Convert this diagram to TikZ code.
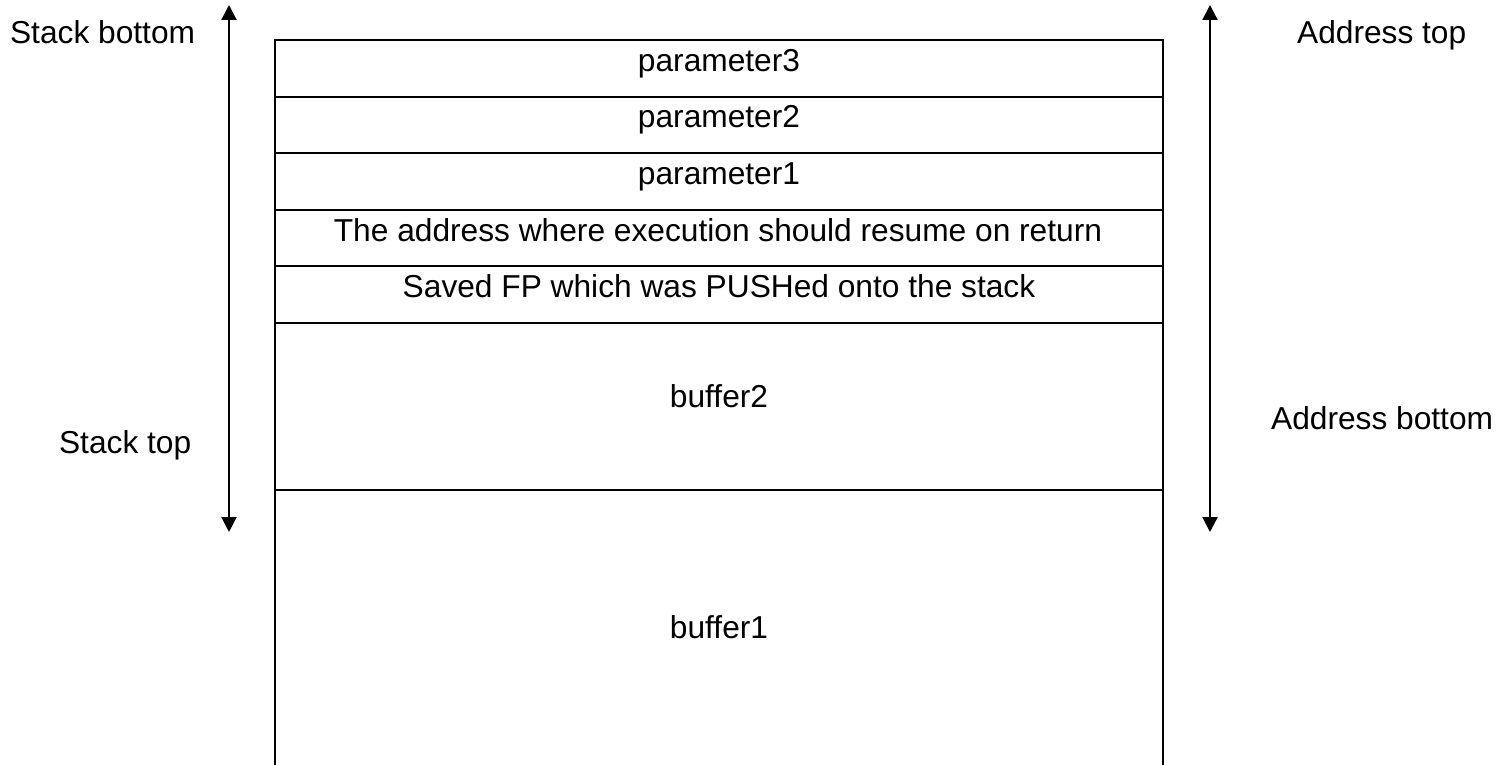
\documentclass[tikz,border=0pt]{standalone}
\usepackage{fontspec}
\setmainfont{Liberation Sans}
\usetikzlibrary{arrows.meta}
\begin{document}
\begin{tikzpicture}[x=1pt,y=-1pt,line width=2.2pt,
  lbl/.style={inner sep=0pt,font=\fontsize{31.7}{38}\selectfont,anchor=base},
  lblw/.style={lbl,anchor=base west},
  dblarrow/.style={{Triangle[width=15pt,length=15pt]}-{Triangle[width=15pt,length=15pt]}}]
\useasboundingbox (0,0) rectangle (1510,765);
% box frame (open at bottom)
\coordinate (bl) at (275,765);
\coordinate (tl) at (275,40);
\coordinate (tr) at (1163,40);
\coordinate (br) at (1163,765);
\draw (bl) -- (tl) -- (tr) -- (br);
% row separators
\foreach \y/\n in {97/a,153/b,210/c,266/d,323/e,490/f}{
  \coordinate (L\n) at (275,\y);
  \coordinate (R\n) at (1163,\y);
  \draw (L\n) -- (R\n);
}
% row texts
\node[lbl] (p3) at (719,72) {parameter3};
\node[lbl] (p2) at (719,128) {parameter2};
\node[lbl] (p1) at (719,185) {parameter1};
\node[lbl] (ret) at (718,241) {The address where execution should resume on return};
\node[lbl] (fp) at (719,297) {Saved FP which was PUSHed onto the stack};
\node[lbl] (b2) at (719,407) {buffer2};
\node[lbl] (b1) at (719,638) {buffer1};
% side labels
\node[lblw] (sbot) at (9,44) {Stack bottom};
\node[lblw] (stop) at (58,453) {Stack top};
\node[lblw] (atop) at (1296,44) {Address top};
\node[lblw] (abot) at (1270,429) {Address bottom};
% arrows
\coordinate (la) at (229,5);
\coordinate (lb) at (229,532);
\coordinate (ra) at (1210,5);
\coordinate (rb) at (1210,532);
\draw[dblarrow] (la) -- (lb);
\draw[dblarrow] (ra) -- (rb);
\end{tikzpicture}
\end{document}
